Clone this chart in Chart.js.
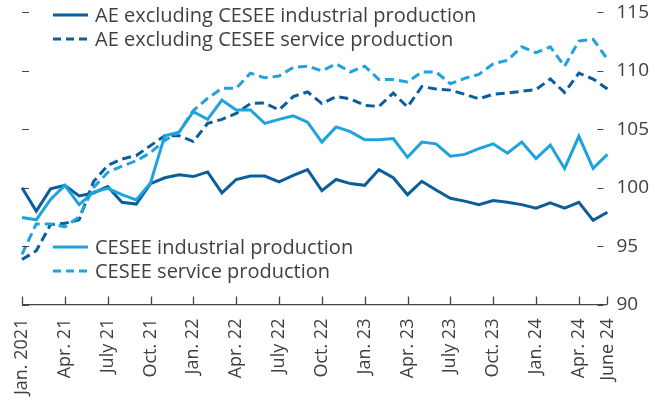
<!DOCTYPE html>
<html lang="en">
<head>
  <meta charset="UTF-8">
  <title>AE and CESEE production</title>
  <script src="https://cdn.jsdelivr.net/npm/chart.js"></script>
  <style>
    html, body { margin: 0; padding: 0; background: #fff; }
    #wrap { position: relative; width: 655px; height: 401px; }
  </style>
</head>
<body>
  <div id="wrap"><canvas id="myChart"></canvas></div>

  <script>
    // monthly, Jan. 2021 - June 2024
    const months = [
      'Jan. 2021', 'Feb. 21', 'Mar. 21', 'Apr. 21', 'May 21', 'June 21',
      'July 21', 'Aug. 21', 'Sep. 21', 'Oct. 21', 'Nov. 21', 'Dec. 21',
      'Jan. 22', 'Feb. 22', 'Mar. 22', 'Apr. 22', 'May 22', 'June 22',
      'July 22', 'Aug. 22', 'Sep. 22', 'Oct. 22', 'Nov. 22', 'Dec. 22',
      'Jan. 23', 'Feb. 23', 'Mar. 23', 'Apr. 23', 'May 23', 'June 23',
      'July 23', 'Aug. 23', 'Sep. 23', 'Oct. 23', 'Nov. 23', 'Dec. 23',
      'Jan. 24', 'Feb. 24', 'Mar. 24', 'Apr. 24', 'May 24', 'June 24'
    ];

    const aeIndustrial = [
      100.0, 98.0, 99.9, 100.2, 99.3, 99.55, 100.1, 98.75, 98.6, 100.35, 100.85, 101.1,
      100.95, 101.35, 99.55, 100.7, 101.0, 101.0, 100.5, 101.05, 101.55, 99.75, 100.7, 100.35,
      100.2, 101.55, 100.85, 99.4, 100.55, 99.8, 99.1, 98.85, 98.55, 98.9, 98.75, 98.55,
      98.25, 98.7, 98.25, 98.75, 97.2, 97.9
    ];
    const aeService = [
      93.85, 94.6, 96.85, 96.95, 97.25, 100.5, 101.9, 102.45, 102.75, 103.6, 104.45, 104.45,
      103.95, 105.5, 105.85, 106.35, 107.2, 107.25, 106.65, 107.8, 108.2, 107.2, 107.8, 107.6,
      107.05, 106.95, 108.1, 106.9, 108.65, 108.45, 108.35, 108.0, 107.6, 108.0, 108.1, 108.25,
      108.4, 109.3, 108.15, 109.8, 109.3, 108.45
    ];
    const ceseeIndustrial = [
      97.45, 97.25, 99.0, 100.2, 98.55, 99.6, 99.95, 99.4, 98.95, 100.4, 104.45, 104.75,
      106.5, 105.85, 107.5, 106.65, 106.65, 105.5, 105.85, 106.15, 105.6, 103.9, 105.2, 104.8,
      104.1, 104.1, 104.2, 102.6, 103.9, 103.75, 102.7, 102.85, 103.35, 103.75, 102.95, 103.9,
      102.5, 103.65, 101.65, 104.4, 101.65, 102.85
    ];
    const ceseeService = [
      94.3, 96.9, 96.9, 96.65, 97.5, 100.0, 101.3, 101.85, 102.3, 103.0, 104.05, 104.75,
      106.6, 107.65, 108.5, 108.5, 109.8, 109.4, 109.55, 110.3, 110.4, 110.0, 110.6, 109.9,
      110.4, 109.25, 109.25, 109.05, 109.9, 109.9, 108.9, 109.35, 109.7, 110.6, 110.9, 112.05,
      111.55, 112.05, 110.4, 112.55, 112.7, 111.0
    ];

    const yTicks = [90, 95, 100, 105, 110, 115];

    const darkBlue = '#0b5e9b';
    const lightBlue = '#1ea3de';
    const textColor = '#404040';
    const fontFamily = '"Open Sans", sans-serif';
    const dash = [9, 5];

    // legend entries sit at fixed spots: two at the top, two lower down
    const legendItems = [
      { text: 'AE excluding CESEE industrial production', color: darkBlue, dashed: false, x: 53, y: 15 },
      { text: 'AE excluding CESEE service production', color: darkBlue, dashed: true, x: 53, y: 39 },
      { text: 'CESEE industrial production', color: lightBlue, dashed: false, x: 53, y: 247 },
      { text: 'CESEE service production', color: lightBlue, dashed: true, x: 53, y: 271 }
    ];

    const isLabelled = i => i % 3 === 0 || i === months.length - 1;

    // axis line, small upward ticks and the short y dashes
    const framePlugin = {
      id: 'frame',
      afterDatasetsDraw(chart) {
        const { ctx, chartArea: a, scales: { x, y } } = chart;
        ctx.save();
        ctx.strokeStyle = '#444';
        ctx.lineWidth = 1.3;
        ctx.beginPath();
        ctx.moveTo(a.left, a.bottom);
        ctx.lineTo(a.right, a.bottom);
        months.forEach((m, i) => {
          if (!isLabelled(i)) return;
          const px = Math.round(x.getPixelForValue(i)) + 0.5;
          ctx.moveTo(px, a.bottom);
          ctx.lineTo(px, a.bottom - 8);
        });
        ctx.stroke();

        ctx.lineWidth = 1.2;
        ctx.beginPath();
        yTicks.forEach(v => {
          const py = Math.round(y.getPixelForValue(v)) + 0.5;
          ctx.moveTo(a.left, py);
          ctx.lineTo(a.left + 7, py);
          ctx.moveTo(a.right - 10, py);
          ctx.lineTo(a.right - 4, py);
        });
        ctx.stroke();
        ctx.restore();
      },
      afterDraw(chart) {
        const ctx = chart.ctx;
        ctx.save();
        ctx.font = '20px ' + fontFamily;
        ctx.textBaseline = 'middle';
        legendItems.forEach(item => {
          ctx.strokeStyle = item.color;
          ctx.lineWidth = 3;
          ctx.setLineDash(item.dashed ? [8, 5] : []);
          ctx.beginPath();
          ctx.moveTo(item.x, item.y);
          ctx.lineTo(item.x + 35, item.y);
          ctx.stroke();
          ctx.fillStyle = textColor;
          ctx.fillText(item.text, item.x + 42, item.y + 1);
        });
        ctx.restore();
      }
    };

    function makeLine(label, data, color, dashed) {
      return {
        label: label,
        data: data,
        borderColor: color,
        backgroundColor: color,
        borderWidth: 3,
        borderDash: dashed ? dash : [],
        pointRadius: 0,
        tension: 0,
        fill: false
      };
    }

    const ctx = document.getElementById('myChart').getContext('2d');
    new Chart(ctx, {
      type: 'line',
      data: {
        labels: months,
        datasets: [
          makeLine(legendItems[2].text, ceseeIndustrial, lightBlue, false),
          makeLine(legendItems[3].text, ceseeService, lightBlue, true),
          makeLine(legendItems[0].text, aeIndustrial, darkBlue, false),
          makeLine(legendItems[1].text, aeService, darkBlue, true)
        ]
      },
      options: {
        responsive: true,
        maintainAspectRatio: false,
        animation: false,
        layout: { padding: { left: 22, right: 5, top: -3, bottom: 0 } },
        plugins: {
          legend: { display: false },
          tooltip: { enabled: false }
        },
        scales: {
          x: {
            grid: { display: false },
            border: { display: false },
            ticks: {
              autoSkip: false,
              minRotation: 90,
              maxRotation: 90,
              padding: 6,
              color: textColor,
              font: { size: 18, family: fontFamily },
              callback: (val, i) => isLabelled(i) ? months[i] : ''
            }
          },
          y: {
            position: 'right',
            min: 90,
            max: 115,
            afterBuildTicks: axis => { axis.ticks = yTicks.map(v => ({ value: v })); },
            grid: { display: false },
            border: { display: false },
            ticks: {
              padding: 1,
              color: textColor,
              font: { size: 19, family: fontFamily }
            }
          }
        }
      },
      plugins: [framePlugin]
    });
  </script>
</body>
</html>
